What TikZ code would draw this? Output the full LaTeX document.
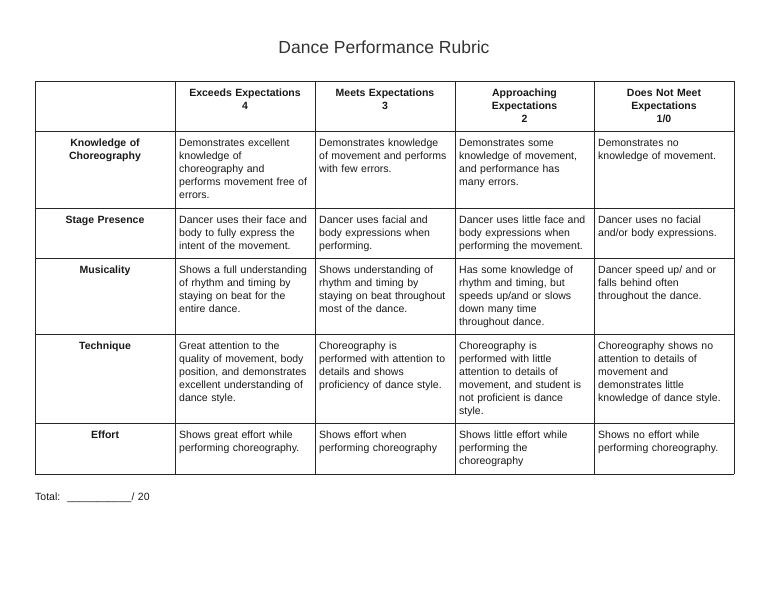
\documentclass[tikz,border=0pt]{standalone}
\usepackage{fontspec}
\setmainfont{Liberation Sans}
\usetikzlibrary{calc}

\tikzset{
  cell/.style={anchor=base west, align=left, text width=136pt, inner sep=0pt,
    text=black!90, font=\fontsize{10.5}{13}\selectfont},
  head/.style={anchor=base, align=center, text width=136pt, inner sep=0pt,
    text=black!90, font=\bfseries\fontsize{10.5}{13}\selectfont},
  rule/.style={line width=1pt, black!85}
}

\begin{document}
\begin{tikzpicture}[x=1pt,y=-1pt]
  \useasboundingbox[fill=white] (0,0) rectangle (768,594);
  \node[anchor=base, inner sep=0pt, text=black!80, font=\fontsize{17.5}{20}\selectfont]
    (title) at (384,53) {Dance Performance Rubric};
  % table rules
  \foreach \x in {35,175,315,455,594,734}
    \draw[rule] (\x,81) -- (\x,474);
  \foreach \y in {81,131,208,258,334,423,474}
    \draw[rule] (35,\y) -- (734,\y);
  % column heads
  \node[head] (exceeds) at (245,96.5) {Exceeds Expectations\\4};
  \node[head] (meets) at (385,96.5) {Meets Expectations\\3};
  \node[head] (approach) at (524.5,96.5) {Approaching\\Expectations\\2};
  \node[head] (notmeet) at (664,96.5) {Does Not Meet\\Expectations\\1/0};
  % row heads
  \node[head] (knowledge) at (105,146.5) {Knowledge of\\Choreography};
  \node[head] (stage) at (105,223.5) {Stage Presence};
  \node[head] (music) at (105,273.5) {Musicality};
  \node[head] (technique) at (105,349.5) {Technique};
  \node[head] (effort) at (105,438.5) {Effort};
  % knowledge of choreography
  \node[cell] (k4) at (179,146.5) {Demonstrates excellent\\knowledge of\\choreography and\\performs movement free of\\errors.};
  \node[cell] (k3) at (319,146.5) {Demonstrates knowledge\\of movement and performs\\with few errors.};
  \node[cell] (k2) at (459,146.5) {Demonstrates some\\knowledge of movement,\\and performance has\\many errors.};
  \node[cell] (k1) at (598,146.5) {Demonstrates no\\knowledge of movement.};
  % stage presence
  \node[cell] (s4) at (179,223.5) {Dancer uses their face and\\body to fully express the\\intent of the movement.};
  \node[cell] (s3) at (319,223.5) {Dancer uses facial and\\body expressions when\\performing.};
  \node[cell] (s2) at (459,223.5) {Dancer uses little face and\\body expressions when\\performing the movement.};
  \node[cell] (s1) at (598,223.5) {Dancer uses no facial\\and/or body expressions.};
  % musicality
  \node[cell] (m4) at (179,273.5) {Shows a full understanding\\of rhythm and timing by\\staying on beat for the\\entire dance.};
  \node[cell] (m3) at (319,273.5) {Shows understanding of\\rhythm and timing by\\staying on beat throughout\\most of the dance.};
  \node[cell] (m2) at (459,273.5) {Has some knowledge of\\rhythm and timing, but\\speeds up/and or slows\\down many time\\throughout dance.};
  \node[cell] (m1) at (598,273.5) {Dancer speed up/ and or\\falls behind often\\throughout the dance.};
  % technique
  \node[cell] (t4) at (179,349.5) {Great attention to the\\quality of movement, body\\position, and demonstrates\\excellent understanding of\\dance style.};
  \node[cell] (t3) at (319,349.5) {Choreography is\\performed with attention to\\details and shows\\proficiency of dance style.};
  \node[cell] (t2) at (459,349.5) {Choreography is\\performed with little\\attention to details of\\movement, and student is\\not proficient is dance\\style.};
  \node[cell] (t1) at (598,349.5) {Choreography shows no\\attention to details of\\movement and\\demonstrates little\\knowledge of dance style.};
  % effort
  \node[cell] (e4) at (179,438.5) {Shows great effort while\\performing choreography.};
  \node[cell] (e3) at (319,438.5) {Shows effort when\\performing choreography};
  \node[cell] (e2) at (459,438.5) {Shows little effort while\\performing the\\choreography};
  \node[cell] (e1) at (598,438.5) {Shows no effort while\\performing choreography.};
  % total
  \node[cell] (total) at (35,500) {Total:\ \ \_\_\_\_\_\_\_\_\_\_\_/ 20};
\end{tikzpicture}
\end{document}
